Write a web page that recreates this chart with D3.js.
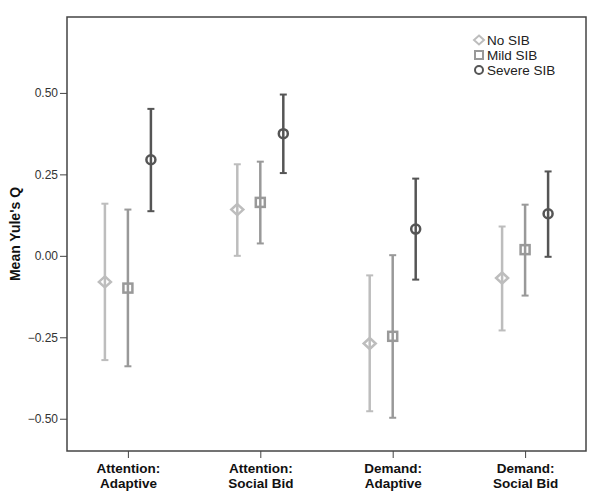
<!DOCTYPE html>
<html><head><meta charset="utf-8">
<script src="https://cdn.jsdelivr.net/npm/d3@7"></script>
<style>body{margin:0;background:#fff}svg{display:block}</style>
</head><body>
<svg id="chart" width="601" height="497"></svg>
<script>
const categories = [["Attention:","Adaptive"],["Attention:","Social Bid"],["Demand:","Adaptive"],["Demand:","Social Bid"]];
const seriesNames = ["No SIB","Mild SIB","Severe SIB"];
const noSibMean  = [-0.080, 0.142, -0.269, -0.068];
const noSibLow   = [-0.320, 0.000, -0.477, -0.229];
const noSibHigh  = [ 0.160, 0.281, -0.060,  0.090];
const mildMean   = [-0.099, 0.164, -0.247,  0.019];
const mildLow    = [-0.339, 0.038, -0.497, -0.122];
const mildHigh   = [ 0.142, 0.289,  0.002,  0.157];
const severeMean = [ 0.295, 0.375,  0.082,  0.129];
const severeLow  = [ 0.137, 0.254, -0.073, -0.003];
const severeHigh = [ 0.451, 0.495,  0.237,  0.259];
const yTicks = [-0.50, -0.25, 0.00, 0.25, 0.50];

const series = [
  {name: seriesNames[0], mean: noSibMean, low: noSibLow, high: noSibHigh, color: "#bdbdbd", shape: "diamond", off: -23},
  {name: seriesNames[1], mean: mildMean, low: mildLow, high: mildHigh, color: "#999999", shape: "square", off: 0},
  {name: seriesNames[2], mean: severeMean, low: severeLow, high: severeHigh, color: "#555555", shape: "circle", off: 23}
];

const FONT = "Arial, 'Liberation Sans', sans-serif";
const svg = d3.select("#chart");
const L = 67, R = 586, T = 17, B = 451;
const x = d3.scalePoint().domain(d3.range(categories.length)).range([L, R]).padding(0.46);
const y = d3.scaleLinear().domain([-0.599, 0.733]).range([B, T]);

// axes
const yAxis = d3.axisLeft(y).tickValues(yTicks).tickFormat(d3.format(".2f")).tickSize(7).tickSizeOuter(0);
const gy = svg.append("g").attr("transform", `translate(${L},0)`).call(yAxis);
gy.select(".domain").remove();
gy.selectAll(".tick line").attr("stroke", "#444").attr("stroke-width", 1);
gy.selectAll(".tick text").attr("font-family", FONT).attr("font-size", 12).attr("fill", "#333").attr("x", -9);

const xAxis = d3.axisBottom(x).tickSize(7).tickFormat("");
const gx = svg.append("g").attr("transform", `translate(0,${B})`).call(xAxis);
gx.select(".domain").remove();
gx.selectAll(".tick line").attr("stroke", "#444").attr("stroke-width", 1);
gx.selectAll(".tick").each(function(d) {
  const t = d3.select(this).append("text").attr("fill", "#111")
    .attr("font-family", FONT).attr("font-weight", "bold")
    .attr("font-size", 13.5).attr("text-anchor", "middle");
  t.append("tspan").attr("x", 0).attr("y", 22).text(categories[d][0]);
  t.append("tspan").attr("x", 0).attr("y", 37).text(categories[d][1]);
});

// frame
svg.append("rect").attr("x", L).attr("y", T).attr("width", R - L).attr("height", B - T)
  .attr("fill", "none").attr("stroke", "#444").attr("stroke-width", 1.5);

// y label
svg.append("text").attr("transform", `translate(20,${(T + B) / 2}) rotate(-90)`)
  .attr("text-anchor", "middle").attr("font-family", FONT)
  .attr("font-weight", "bold").attr("font-size", 14).attr("fill", "#111").text("Mean Yule's Q");

function drawMarker(g, shape, cx, cy, color) {
  if (shape === "diamond") {
    g.append("path").attr("d", `M${cx},${cy-5.5}L${cx+6},${cy}L${cx},${cy+5.5}L${cx-6},${cy}Z`)
      .attr("fill", "none").attr("stroke", color).attr("stroke-width", 2.5);
  } else if (shape === "square") {
    g.append("rect").attr("x", cx - 4.5).attr("y", cy - 4.5).attr("width", 9).attr("height", 9)
      .attr("fill", "none").attr("stroke", color).attr("stroke-width", 2.5);
  } else {
    g.append("circle").attr("cx", cx).attr("cy", cy).attr("r", 4.5)
      .attr("fill", "none").attr("stroke", color).attr("stroke-width", 2.5);
  }
}

const plot = svg.append("g");
series.forEach(s => {
  categories.forEach((c, i) => {
    const cx = x(i) + s.off;
    const g = plot.append("g");
    g.append("line").attr("x1", cx).attr("x2", cx).attr("y1", y(s.low[i])).attr("y2", y(s.high[i]))
      .attr("stroke", s.color).attr("stroke-width", 2.5);
    [s.low[i], s.high[i]].forEach(v => {
      g.append("line").attr("x1", cx - 3.5).attr("x2", cx + 3.5).attr("y1", y(v)).attr("y2", y(v))
        .attr("stroke", s.color).attr("stroke-width", 2);
    });
    drawMarker(g, s.shape, cx, y(s.mean[i]), s.color);
  });
});

// legend
const leg = svg.append("g");
series.forEach((s, k) => {
  const cy = 40 + k * 15;
  const g = leg.append("g");
  if (s.shape === "diamond") {
    g.append("path").attr("d", `M479,${cy-4.5}L484,${cy}L479,${cy+4.5}L474,${cy}Z`)
      .attr("fill", "none").attr("stroke", s.color).attr("stroke-width", 2);
  } else if (s.shape === "square") {
    g.append("rect").attr("x", 475).attr("y", cy - 4).attr("width", 8).attr("height", 8)
      .attr("fill", "none").attr("stroke", s.color).attr("stroke-width", 2);
  } else {
    g.append("circle").attr("cx", 479).attr("cy", cy).attr("r", 4)
      .attr("fill", "none").attr("stroke", s.color).attr("stroke-width", 2);
  }
  g.append("text").attr("x", 487).attr("y", cy + 5).attr("font-family", FONT)
    .attr("font-size", 13.5).attr("fill", "#222").text(s.name);
});
</script>
</body></html>
